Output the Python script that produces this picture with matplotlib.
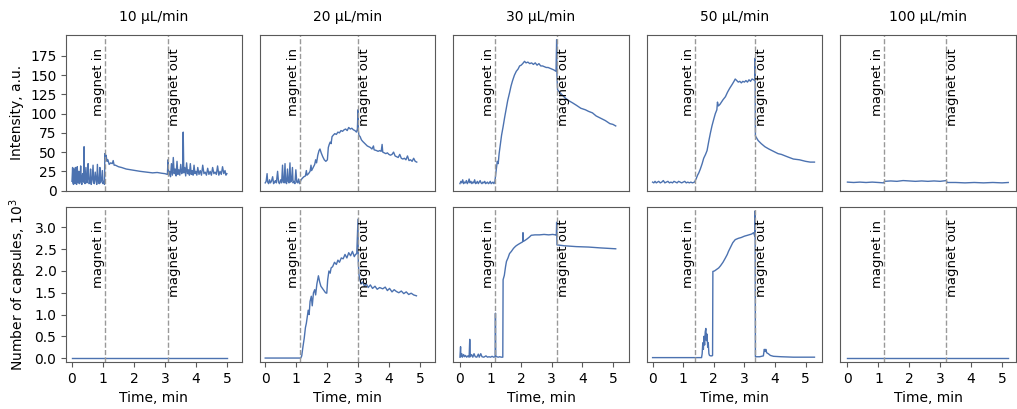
import matplotlib
matplotlib.use("Agg")
import matplotlib.pyplot as plt
import numpy as np

rates = ["10 µL/min", "20 µL/min", "30 µL/min", "50 µL/min", "100 µL/min"]
magnet_in = [1.06, 1.13, 1.14, 1.37, 1.17]
magnet_out = [3.09, 3.00, 3.16, 3.35, 3.20]
xlims = [(-0.19, 5.48), (-0.18, 5.5), (-0.22, 5.52), (-0.19, 5.55), (-0.23, 5.45)]

# intensity (a.u.)
int1_t = [0.00, 0.02, 0.03, 0.05, 0.06, 0.08, 0.10, 0.11, 0.13, 0.15, 0.17, 0.19, 0.20, 0.22, 0.24, 0.26,
          0.28, 0.30, 0.32, 0.34, 0.37, 0.39, 0.40, 0.42, 0.45, 0.48, 0.50, 0.52, 0.55, 0.58, 0.60, 0.62,
          0.65, 0.68, 0.70, 0.72, 0.75, 0.78, 0.80, 0.82, 0.85, 0.88, 0.90, 0.92, 0.95, 0.98, 1.00, 1.03,
          1.05, 1.06, 1.08, 1.10, 1.13, 1.16, 1.20, 1.25, 1.30, 1.33, 1.36, 1.40, 1.50, 1.60, 1.75, 1.90,
          2.05, 2.20, 2.40, 2.60, 2.75, 2.90, 3.00, 3.08, 3.10, 3.12, 3.15, 3.18, 3.21, 3.24, 3.27, 3.30,
          3.33, 3.36, 3.39, 3.42, 3.45, 3.48, 3.51, 3.54, 3.57, 3.59, 3.61, 3.64, 3.67, 3.70, 3.73, 3.76,
          3.79, 3.82, 3.85, 3.88, 3.91, 3.94, 3.97, 4.00, 4.03, 4.06, 4.10, 4.14, 4.18, 4.22, 4.26, 4.30,
          4.34, 4.38, 4.42, 4.46, 4.50, 4.54, 4.58, 4.62, 4.66, 4.70, 4.74, 4.78, 4.82, 4.86, 4.90, 4.94,
          4.97, 5.00]
int1_v = [12, 30, 10, 8, 28, 12, 9, 30, 11, 8, 31, 14, 10, 25, 9, 13,
          32, 10, 8, 22, 11, 57, 12, 9, 30, 10, 15, 35, 9, 11, 28, 8,
          14, 33, 10, 9, 24, 12, 8, 34, 11, 9, 30, 10, 13, 26, 9, 12,
          8, 48, 42, 46, 38, 40, 34, 36, 35, 39, 33, 33, 31, 30, 28, 27,
          26, 25, 24, 23, 23.5, 22.5, 22, 21, 40, 20, 25, 18, 35, 20, 43, 22,
          28, 19, 38, 21, 27, 20, 34, 22, 24, 76, 23, 30, 19, 36, 22, 27,
          20, 35, 21, 26, 20, 33, 22, 25, 20, 30, 21, 26, 20, 33, 22, 24,
          20, 29, 21, 25, 20, 30, 22, 24, 21, 32, 20, 25, 21, 31, 22, 26,
          20, 22]

int2_t = [0.00, 0.03, 0.06, 0.08, 0.11, 0.14, 0.17, 0.20, 0.24, 0.27, 0.30, 0.33, 0.36, 0.40, 0.43, 0.46,
          0.50, 0.53, 0.56, 0.58, 0.61, 0.64, 0.66, 0.69, 0.72, 0.74, 0.77, 0.80, 0.82, 0.85, 0.88, 0.90,
          0.93, 0.96, 0.99, 1.02, 1.05, 1.08, 1.11, 1.13, 1.16, 1.20, 1.25, 1.30, 1.33, 1.35, 1.40, 1.45,
          1.48, 1.50, 1.55, 1.60, 1.63, 1.66, 1.70, 1.74, 1.77, 1.81, 1.86, 1.91, 1.96, 2.01, 2.04, 2.07,
          2.10, 2.13, 2.16, 2.20, 2.25, 2.30, 2.35, 2.40, 2.45, 2.50, 2.55, 2.60, 2.65, 2.70, 2.75, 2.80,
          2.85, 2.90, 2.95, 2.98, 3.00, 3.01, 3.03, 3.07, 3.11, 3.15, 3.20, 3.25, 3.30, 3.35, 3.40, 3.45,
          3.50, 3.52, 3.60, 3.65, 3.70, 3.75, 3.78, 3.80, 3.85, 3.90, 3.95, 4.00, 4.05, 4.10, 4.15, 4.20,
          4.25, 4.30, 4.35, 4.40, 4.45, 4.50, 4.55, 4.60, 4.65, 4.70, 4.75, 4.80, 4.85, 4.90]
int2_v = [10, 12, 22, 11, 9, 14, 10, 12, 18, 9, 11, 13, 10, 25, 11, 9,
          14, 10, 33, 12, 10, 35, 11, 9, 28, 12, 10, 36, 11, 13, 30, 10,
          12, 9, 27, 11, 10, 15, 9, 11, 14, 16, 18, 19, 26, 20, 22, 25,
          33, 26, 30, 34, 40, 36, 46, 52, 54, 49, 44, 40, 38, 40, 56, 60,
          63, 61, 70, 72, 74, 73, 76, 75, 78, 77, 79, 80, 78, 82, 80, 81,
          79, 78, 76, 80, 105, 78, 72, 70, 66, 64, 62, 60, 58, 57, 56, 54,
          58, 53, 52, 51, 52, 51, 60, 50, 49, 48, 49, 47, 46, 47, 50, 45,
          44, 43, 47, 42, 41, 42, 40, 45, 39, 40, 38, 42, 38, 37]

int3_t = [0.00, 0.03, 0.06, 0.09, 0.12, 0.15, 0.18, 0.21, 0.24, 0.27, 0.30, 0.33, 0.36, 0.39, 0.42, 0.45,
          0.48, 0.51, 0.54, 0.57, 0.60, 0.63, 0.66, 0.69, 0.72, 0.75, 0.78, 0.81, 0.84, 0.87, 0.90, 0.93,
          0.96, 0.99, 1.02, 1.05, 1.08, 1.11, 1.14, 1.18, 1.22, 1.25, 1.28, 1.32, 1.36, 1.41, 1.46, 1.51,
          1.56, 1.62, 1.67, 1.72, 1.78, 1.84, 1.90, 1.95, 2.00, 2.05, 2.11, 2.16, 2.22, 2.28, 2.34, 2.40,
          2.46, 2.52, 2.58, 2.64, 2.70, 2.76, 2.82, 2.88, 2.94, 3.00, 3.06, 3.10, 3.14, 3.16, 3.17, 3.19,
          3.25, 3.35, 3.45, 3.55, 3.68, 3.80, 3.95, 4.10, 4.20, 4.33, 4.45, 4.60, 4.75, 4.90, 5.00, 5.09]
int3_v = [9, 12, 10, 14, 9, 11, 10, 13, 9, 11, 15, 10, 12, 9, 11, 10,
          14, 9, 10, 12, 9, 11, 13, 10, 9, 11, 10, 12, 9, 10, 11, 9,
          10, 12, 9, 10, 11, 9, 11, 25, 38, 35, 48, 60, 72, 83, 95, 106,
          117, 127, 136, 143, 150, 155, 158, 162, 163, 165, 168, 166, 167, 165, 166, 164,
          166, 163, 165, 162, 162, 161, 160, 160, 159, 158, 157, 156, 155, 196, 150, 131,
          128, 124, 120, 117, 114, 111, 107, 105, 103, 101, 97, 94, 91, 87, 86, 84]

int4_t = [0.00, 0.04, 0.08, 0.12, 0.16, 0.20, 0.25, 0.30, 0.35, 0.40, 0.45, 0.50, 0.55, 0.60, 0.65, 0.70,
          0.75, 0.80, 0.85, 0.90, 0.95, 1.00, 1.05, 1.10, 1.15, 1.20, 1.25, 1.30, 1.37, 1.42, 1.47, 1.51,
          1.56, 1.62, 1.67, 1.73, 1.78, 1.84, 1.89, 1.94, 2.00, 2.05, 2.10, 2.12, 2.15, 2.20, 2.25, 2.30,
          2.38, 2.45, 2.52, 2.60, 2.66, 2.70, 2.75, 2.80, 2.85, 2.90, 2.95, 3.00, 3.05, 3.10, 3.15, 3.20,
          3.25, 3.30, 3.34, 3.35, 3.36, 3.45, 3.55, 3.67, 3.80, 3.95, 4.10, 4.21, 4.40, 4.60, 4.80, 5.00,
          5.15, 5.29]
int4_v = [11, 10, 12, 10, 11, 12, 10, 11, 13, 10, 11, 12, 10, 11, 10, 12,
          11, 10, 12, 11, 10, 11, 12, 10, 11, 10, 11, 10, 11, 15, 20, 23,
          28, 35, 42, 47, 52, 65, 75, 84, 93, 100, 105, 115, 110, 112, 115, 118,
          122, 128, 133, 138, 142, 145, 143, 141, 142, 140, 142, 141, 143, 141, 144, 142,
          145, 144, 143, 172, 71, 65, 61, 57, 54, 51, 48, 47, 44, 41, 40, 38,
          37, 37]

int5_t = [0.0, 0.2, 0.4, 0.6, 0.8, 1.0, 1.17, 1.2, 1.4, 1.6, 1.8, 2.0, 2.2, 2.4, 2.6, 2.8,
          3.0, 3.2, 3.22, 3.5, 3.8, 4.1, 4.4, 4.7, 5.0, 5.2]
int5_v = [11, 10.5, 11, 10.5, 11, 10.5, 10, 12, 12.5, 12, 13, 12.5, 12, 12.5, 12, 12.5,
          12, 13, 10.5, 10.5, 10, 10.5, 10, 10.5, 10, 10.5]

# number of capsules (10^3)
cap1_t = [0.0, 5.0]
cap1_v = [0.0, 0.0]

cap2_t = [0.00, 1.15, 1.18, 1.22, 1.26, 1.30, 1.33, 1.36, 1.39, 1.42, 1.45, 1.49, 1.52, 1.56, 1.60, 1.63,
          1.67, 1.72, 1.76, 1.80, 1.85, 1.90, 1.95, 1.99, 2.02, 2.06, 2.10, 2.13, 2.18, 2.24, 2.30, 2.35,
          2.40, 2.46, 2.52, 2.58, 2.64, 2.70, 2.76, 2.82, 2.88, 2.92, 2.96, 3.00, 3.01, 3.03, 3.06, 3.10,
          3.15, 3.21, 3.27, 3.33, 3.40, 3.47, 3.55, 3.62, 3.70, 3.80, 3.88, 3.95, 4.02, 4.10, 4.17, 4.24,
          4.32, 4.40, 4.48, 4.56, 4.64, 4.72, 4.80, 4.89]
cap2_v = [0.0, 0.0, 0.05, 0.26, 0.45, 0.7, 0.8, 0.95, 1.1, 1.0, 1.3, 1.42, 1.2, 1.5, 1.57, 1.45,
          1.7, 1.89, 1.75, 1.65, 1.6, 1.55, 1.5, 1.49, 1.8, 2.0, 1.95, 2.07, 2.1, 2.2, 2.15, 2.25,
          2.2, 2.3, 2.28, 2.38, 2.3, 2.42, 2.35, 2.45, 2.33, 2.38, 2.4, 3.19, 2.2, 1.92, 1.8, 1.7,
          1.75, 1.65, 1.7, 1.62, 1.68, 1.6, 1.65, 1.58, 1.62, 1.59, 1.63, 1.55, 1.6, 1.52, 1.57, 1.53,
          1.5, 1.54, 1.48, 1.52, 1.46, 1.49, 1.45, 1.43]

cap3_t = [0.00, 0.02, 0.03, 0.06, 0.08, 0.12, 0.15, 0.18, 0.22, 0.26, 0.30, 0.32, 0.34, 0.38, 0.42, 0.46,
          0.50, 0.55, 0.60, 0.63, 0.68, 0.72, 0.78, 0.85, 0.90, 0.95, 1.00, 1.05, 1.10, 1.15, 1.16, 1.17,
          1.20, 1.25, 1.30, 1.35, 1.40, 1.41, 1.45, 1.49, 1.52, 1.57, 1.62, 1.68, 1.75, 1.82, 1.88, 1.95,
          2.00, 2.05, 2.06, 2.07, 2.12, 2.20, 2.27, 2.33, 2.45, 2.60, 2.75, 2.90, 3.03, 3.12, 3.15, 3.16,
          3.17, 3.40, 3.80, 4.20, 4.60, 5.09]
cap3_v = [0.02, 0.26, 0.03, 0.1, 0.02, 0.08, 0.03, 0.06, 0.02, 0.05, 0.02, 0.43, 0.03, 0.08, 0.02, 0.1,
          0.03, 0.02, 0.09, 0.02, 0.1, 0.03, 0.02, 0.05, 0.02, 0.03, 0.02, 0.04, 0.02, 0.03, 1.03, 0.05,
          0.03, 0.02, 0.03, 0.02, 0.02, 1.8, 1.9, 2.1, 2.22, 2.3, 2.4, 2.45, 2.52, 2.57, 2.6, 2.63,
          2.65, 2.67, 2.88, 2.68, 2.7, 2.74, 2.78, 2.82, 2.83, 2.83, 2.84, 2.83, 2.84, 2.83, 2.82, 3.12,
          2.6, 2.58, 2.56, 2.55, 2.53, 2.51]

cap4_t = [0.00, 1.60, 1.62, 1.64, 1.66, 1.68, 1.70, 1.72, 1.74, 1.76, 1.78, 1.80, 1.82, 1.84, 1.86, 1.90,
          1.94, 1.96, 1.97, 2.02, 2.08, 2.16, 2.22, 2.30, 2.38, 2.44, 2.48, 2.55, 2.62, 2.70, 2.80, 2.90,
          3.00, 3.10, 3.24, 3.30, 3.34, 3.35, 3.36, 3.50, 3.62, 3.65, 3.68, 3.70, 3.73, 3.78, 3.85, 3.95,
          4.20, 4.60, 5.00, 5.29]
cap4_v = [0.01, 0.01, 0.1, 0.35, 0.2, 0.5, 0.3, 0.6, 0.68, 0.4, 0.55, 0.25, 0.35, 0.1, 0.06, 0.05,
          0.05, 0.06, 1.99, 2.0, 2.03, 2.07, 2.12, 2.2, 2.3, 2.38, 2.45, 2.55, 2.65, 2.72, 2.75, 2.77,
          2.8, 2.82, 2.85, 2.88, 2.8, 3.38, 0.03, 0.03, 0.05, 0.2, 0.15, 0.2, 0.12, 0.1, 0.06, 0.04,
          0.03, 0.02, 0.02, 0.02]

cap5_t = [0.0, 5.2]
cap5_v = [0.0, 0.0]

intensity = [(int1_t, int1_v), (int2_t, int2_v), (int3_t, int3_v), (int4_t, int4_v), (int5_t, int5_v)]
capsules = [(cap1_t, cap1_v), (cap2_t, cap2_v), (cap3_t, cap3_v), (cap4_t, cap4_v), (cap5_t, cap5_v)]

line_col = "#4C72B0"
edge = "0.35"

fig, axes = plt.subplots(2, 5, figsize=(10.17, 4.09), dpi=100, sharex="col", sharey="row")
fig.subplots_adjust(left=0.065, right=0.999, top=0.914, bottom=0.115, wspace=0.102, hspace=0.103)

for j in range(5):
    for i, data in enumerate([intensity, capsules]):
        ax = axes[i, j]
        t, v = data[j]
        ax.plot(t, v, color=line_col, lw=1.0)
        for xm, lab, ha in [(magnet_in[j], "magnet in", "right"), (magnet_out[j], "magnet out", "left")]:
            ax.axvline(xm, color="#999999", ls="--", lw=1.0)
            ax.text(xm, 0.915, lab, transform=ax.get_xaxis_transform(), rotation=90,
                    ha=ha, va="top", fontsize=9.5)
        for s in ax.spines.values():
            s.set_color(edge)
        ax.tick_params(colors="black", labelsize=10)
        ax.tick_params(axis="both", color=edge)
        if j > 0:
            ax.tick_params(left=False)
        if i == 0:
            ax.tick_params(bottom=False)
    axes[0, j].set_title(rates[j], fontsize=10, pad=10)
    axes[1, j].set_xlabel("Time, min", fontsize=10)
    axes[1, j].set_xlim(*xlims[j])
    axes[1, j].set_xticks([0, 1, 2, 3, 4, 5])

axes[0, 0].set_ylim(0, 202)
axes[0, 0].set_yticks([0, 25, 50, 75, 100, 125, 150, 175])
axes[1, 0].set_ylim(-0.09, 3.48)
axes[1, 0].set_yticks([0.0, 0.5, 1.0, 1.5, 2.0, 2.5, 3.0])
axes[1, 0].yaxis.set_major_formatter(matplotlib.ticker.FormatStrFormatter("%.1f"))
axes[0, 0].set_ylabel("Intensity, a.u.", fontsize=10)
axes[1, 0].set_ylabel("Number of capsules, 10$^3$", fontsize=10)

fig.savefig("out.png", dpi=100)
